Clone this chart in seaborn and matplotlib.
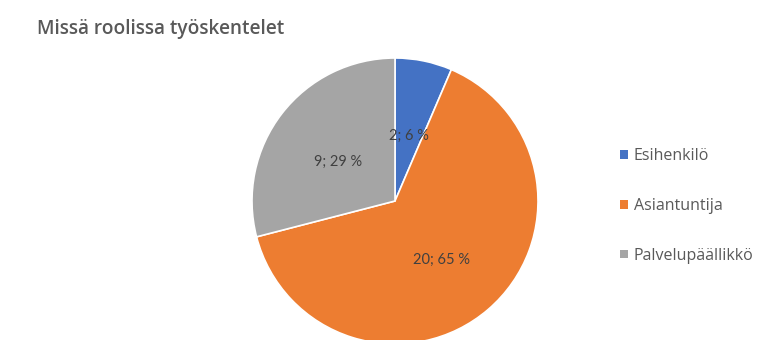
import matplotlib
matplotlib.use("Agg")
import matplotlib.pyplot as plt
from matplotlib.patches import Patch
import seaborn as sns

# Survey responses: role of the respondent
roles = ["Esihenkilö", "Asiantuntija", "Palvelupäällikkö"]
counts = [2, 20, 9]
percents = [6, 65, 29]

sns.set_theme(style="white")
plt.rcParams["font.family"] = ["Open Sans", "DejaVu Sans"]

colors = ["#4472C4", "#ED7D31", "#A5A5A5"]

fig = plt.figure(figsize=(7.7, 3.4), dpi=100)
fig.patch.set_facecolor("white")

W, H = 770, 340
cx, cy, r = 395, 201, 143
ax = fig.add_axes([(cx - r) / W, (H - cy - r) / H, 2 * r / W, 2 * r / H])

labels = [f"{c}; {p} %" for c, p in zip(counts, percents)]
wedges, texts = ax.pie(
    counts,
    colors=colors,
    startangle=90,
    counterclock=False,
    radius=1.0,
    labels=labels,
    labeldistance=0.5,
    wedgeprops=dict(edgecolor="white", linewidth=1.2),
    textprops=dict(color="#404040", fontsize=10.5, family=["Lato", "DejaVu Sans"]),
)
# centre the data labels in their slices, nudged slightly downward
for t in texts:
    t.set_horizontalalignment("center")
    t.set_verticalalignment("center_baseline")
    x, y = t.get_position()
    t.set_position((x, y - 3 / r))
ax.set_xlim(-1, 1)
ax.set_ylim(-1, 1)
ax.set_aspect("equal")
ax.axis("off")

fig.text(37 / W, 1 - 29 / H, "Missä roolissa työskentelet",
         fontsize=13.7, weight="semibold", color="#595959", ha="left", va="center")

handles = [Patch(facecolor=c, edgecolor="none") for c in colors]
leg = fig.legend(
    handles, roles,
    loc="center left",
    bbox_to_anchor=(606 / W, 1 - 206 / H),
    frameon=False,
    fontsize=11.5,
    handlelength=0.45,
    handleheight=0.45,
    handletextpad=0.4,
    labelspacing=2.1,
    labelcolor="#595959",
)

fig.savefig("out.png", dpi=100, facecolor="white")
